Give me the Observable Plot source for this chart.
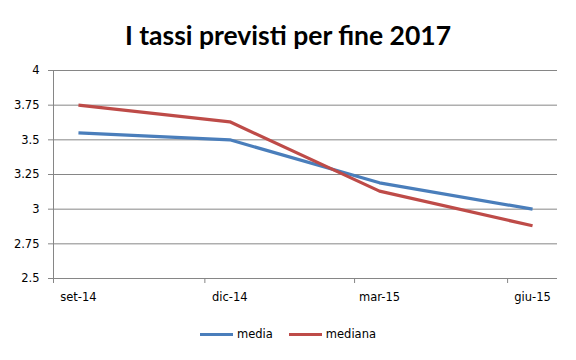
<!DOCTYPE html>
<html>
<head>
<meta charset="utf-8">
<script src="https://cdn.jsdelivr.net/npm/d3@7"></script>
<script src="https://cdn.jsdelivr.net/npm/@observablehq/plot@0.6"></script>
<style>
  html, body { margin: 0; padding: 0; background: #fff; }
  body { width: 576px; height: 360px; position: relative; overflow: hidden; font-family: 'DejaVu Sans', sans-serif; }
  #title { position: absolute; left: 0; top: 15px; width: 576px; text-align: center; font-family: 'Lato', sans-serif; font-weight: 700; font-size: 26.5px; line-height: 40px; color: #000; }
  #chart { position: absolute; left: 0; top: 55px; }
  #legend { position: absolute; left: 0; top: 327px; width: 576px; display: flex; justify-content: center; align-items: center; font-family: 'DejaVu Sans', sans-serif; font-size: 11.5px; color: #000; }
  .item { display: flex; align-items: center; margin: 0 8px; }
  .swatch { width: 33px; height: 3px; margin-right: 4px; }
</style>
</head>
<body>
<div id="title">I tassi previsti per fine 2017</div>
<div id="chart"></div>
<div id="legend"></div>
<script>
const periods = ["2014-09-16", "2014-12-16", "2015-03-16", "2015-06-16"];
const periodLabels = ["set-14", "dic-14", "mar-15", "giu-15"];
const quarterStarts = ["2014-09-01", "2014-12-01", "2015-03-01", "2015-06-01"];
const xDomain = ["2014-09-01", "2015-07-01"];
const media = [3.55, 3.5, 3.19, 3.0];
const mediana = [3.75, 3.63, 3.13, 2.88];
const yTicks = [2.5, 2.75, 3, 3.25, 3.5, 3.75, 4];
const yTickLabels = ["2.5", "2.75", "3", "3.25", "3.5", "3.75", "4"];
const seriesNames = ["media", "mediana"];
const seriesColors = ["#4A7EBB", "#BE4B48"];

const parse = d3.utcParse("%Y-%m-%d");
const fmt = d3.utcFormat("%Y-%m-%d");
const rows = [];
periods.forEach((p, i) => {
  rows.push({date: parse(p), value: media[i], serie: seriesNames[0]});
  rows.push({date: parse(p), value: mediana[i], serie: seriesNames[1]});
});

const plot = Plot.plot({
  width: 576,
  height: 260,
  marginTop: 15,
  marginBottom: 37,
  marginLeft: 53,
  marginRight: 19,
  style: {fontFamily: "'DejaVu Sans', sans-serif", fontSize: "11.5px", color: "#000", background: "#fff"},
  x: {type: "utc", domain: xDomain.map(parse), label: null},
  y: {domain: [2.5, 4], label: null},
  color: {domain: seriesNames, range: seriesColors},
  marks: [
    Plot.gridY(yTicks, {stroke: "#868686", strokeOpacity: 1, strokeWidth: 1}),
    Plot.ruleX([parse(xDomain[0])], {y1: 2.5, y2: 4, stroke: "#868686", strokeWidth: 1}),
    Plot.axisY(yTicks, {tickSize: 5, tickPadding: 9, stroke: "#868686", fill: "#000",
      tickFormat: d => yTickLabels[yTicks.indexOf(d)]}),
    Plot.axisX(quarterStarts.map(parse), {tickSize: 5, stroke: "#868686", tickFormat: () => ""}),
    Plot.axisX(periods.map(parse), {tickSize: 0, tickPadding: 14, fill: "#000",
      tickFormat: d => periodLabels[periods.indexOf(fmt(d))]}),
    Plot.line(rows, {x: "date", y: "value", z: "serie", stroke: "serie", strokeWidth: 3.2,
      strokeLinejoin: "round", strokeLinecap: "butt"})
  ]
});
document.getElementById("chart").appendChild(plot);

const legend = document.getElementById("legend");
seriesNames.forEach((name, i) => {
  const item = document.createElement("div");
  item.className = "item";
  const sw = document.createElement("div");
  sw.className = "swatch";
  sw.style.background = seriesColors[i];
  const label = document.createElement("span");
  label.textContent = name;
  item.appendChild(sw);
  item.appendChild(label);
  legend.appendChild(item);
});
</script>
</body>
</html>
